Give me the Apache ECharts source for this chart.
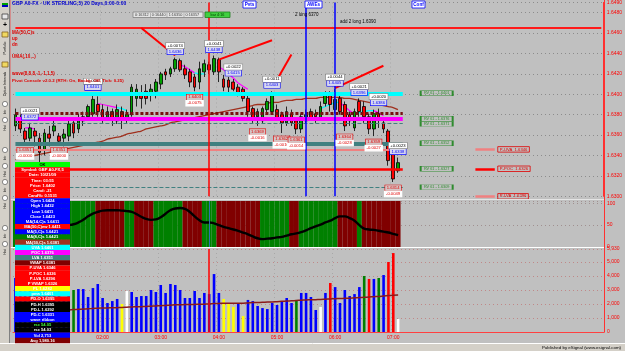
<!DOCTYPE html>
<html>
<head>
<meta charset="utf-8">
<script src="https://cdn.jsdelivr.net/npm/echarts@6/dist/echarts.min.js"></script>
<style>
  html, body { margin: 0; padding: 0; background: #c0c0c0; }
  #chart { width: 625px; height: 351px; }
</style>
</head>
<body>
<div id="chart"></div>
<script>
// 5 minute bars, GBP A0-FX
const times = [
  "00:30","00:35","00:40","00:45","00:50","00:55",
  "01:00","01:05","01:10","01:15","01:20","01:25","01:30","01:35","01:40","01:45","01:50","01:55",
  "02:00","02:05","02:10","02:15","02:20","02:25","02:30","02:35","02:40","02:45","02:50","02:55",
  "03:00","03:05","03:10","03:15","03:20","03:25","03:30","03:35","03:40","03:45","03:50","03:55",
  "04:00","04:05","04:10","04:15","04:20","04:25","04:30","04:35","04:40","04:45","04:50","04:55",
  "05:00","05:05","05:10","05:15","05:20","05:25","05:30","05:35","05:40","05:45","05:50","05:55",
  "06:00","06:05","06:10","06:15","06:20","06:25","06:30","06:35","06:40","06:45","06:50","06:55",
  "07:00","07:05"
];
const hourLabels = ["02:00","03:00","04:00","05:00","06:00","07:00"];

// [open, close, low, high]
const candles = [
  [1.6369,1.6380,1.6364,1.6386],[1.6375,1.6366,1.6362,1.6380],[1.6364,1.6356,1.6351,1.6367],
  [1.6357,1.6367,1.6354,1.6372],[1.6364,1.6359,1.6349,1.6367],[1.6357,1.6343,1.6333,1.6362],
  [1.6345,1.6362,1.6340,1.6366],[1.6361,1.6357,1.6349,1.6369],[1.6364,1.6369,1.6359,1.6375],
  [1.6359,1.6354,1.6351,1.6362],[1.6357,1.6361,1.6349,1.6366],[1.6359,1.6371,1.6354,1.6375],
  [1.6372,1.6362,1.6357,1.6375],[1.6366,1.6376,1.6362,1.6381],[1.6378,1.6374,1.6369,1.6383],
  [1.6378,1.6388,1.6375,1.6390],[1.6381,1.6395,1.6378,1.6401],[1.6390,1.6383,1.6378,1.6398],
  [1.6385,1.6376,1.6372,1.6390],[1.6376,1.6383,1.6374,1.6388],[1.6383,1.6376,1.6369,1.6386],
  [1.6374,1.6385,1.6371,1.6390],[1.6383,1.6375,1.6366,1.6388],[1.6375,1.6380,1.6372,1.6385],
  [1.6380,1.6407,1.6378,1.6410],[1.6396,1.6405,1.6388,1.6410],[1.6400,1.6396,1.6386,1.6409],
  [1.6403,1.6396,1.6390,1.6410],[1.6400,1.6405,1.6393,1.6410],[1.6403,1.6412,1.6396,1.6415],
  [1.6410,1.6420,1.6405,1.6422],[1.6422,1.6419,1.6414,1.6425],[1.6420,1.6425,1.6417,1.6427],
  [1.6425,1.6434,1.6422,1.6436],[1.6433,1.6424,1.6422,1.6435],[1.6425,1.6419,1.6415,1.6429],
  [1.6422,1.6412,1.6407,1.6425],[1.6417,1.6407,1.6403,1.6420],[1.6412,1.6425,1.6405,1.6432],
  [1.6422,1.6430,1.6417,1.6434],[1.6429,1.6424,1.6420,1.6432],[1.6422,1.6435,1.6419,1.6438],
  [1.6434,1.6422,1.6412,1.6436],[1.6415,1.6407,1.6403,1.6419],[1.6414,1.6407,1.6401,1.6417],
  [1.6412,1.6405,1.6403,1.6415],[1.6407,1.6401,1.6398,1.6410],[1.6405,1.6396,1.6393,1.6407],
  [1.6396,1.6383,1.6378,1.6400],[1.6386,1.6376,1.6372,1.6388],[1.6378,1.6383,1.6369,1.6386],
  [1.6374,1.6386,1.6371,1.6388],[1.6385,1.6393,1.6381,1.6396],[1.6383,1.6400,1.6381,1.6403],
  [1.6385,1.6376,1.6374,1.6390],[1.6380,1.6372,1.6362,1.6383],[1.6372,1.6383,1.6369,1.6388],
  [1.6381,1.6372,1.6369,1.6385],[1.6374,1.6366,1.6361,1.6376],[1.6366,1.6378,1.6362,1.6381],
  [1.6374,1.6380,1.6371,1.6385],[1.6383,1.6376,1.6374,1.6386],[1.6381,1.6378,1.6372,1.6385],
  [1.6375,1.6388,1.6374,1.6393],[1.6391,1.6400,1.6388,1.6403],[1.6400,1.6390,1.6383,1.6403],
  [1.6385,1.6395,1.6381,1.6405],[1.6396,1.6383,1.6380,1.6400],[1.6390,1.6369,1.6364,1.6393],
  [1.6380,1.6374,1.6369,1.6383],[1.6367,1.6383,1.6364,1.6386],[1.6393,1.6383,1.6378,1.6396],
  [1.6388,1.6378,1.6372,1.6393],[1.6378,1.6366,1.6361,1.6381],[1.6366,1.6381,1.6359,1.6385],
  [1.6381,1.6375,1.6367,1.6386],[1.6372,1.6366,1.6362,1.6376],[1.6364,1.6335,1.6330,1.6366],
  [1.6343,1.6317,1.6314,1.6346],[1.6325,1.6333,1.6323,1.6338]
];
const priceAvg = [
  1.6336,1.6337,1.6338,1.6339,1.6340,1.6341,1.6342,1.6343,1.6344,1.6345,1.6346,1.6347,
  1.6348,1.6349,1.6350,1.6351,1.6352,1.6353,1.6354,1.6356,1.6357,1.6358,1.6359,1.6361,
  1.6362,1.6363,1.6364,1.6366,1.6367,1.6368,1.6369,1.6370,1.6372,1.6373,1.6374,1.6375,
  1.6376,1.6377,1.6378,1.6379,1.6380,1.6381,1.6382,1.6383,1.6384,1.6385,1.6386,1.6387,
  1.6388,1.6389,1.6390,1.6390,1.6391,1.6392,1.6392,1.6393,1.6394,1.6394,1.6395,1.6395,
  1.6396,1.6396,1.6396,1.6397,1.6397,1.6397,1.6397,1.6397,1.6396,1.6396,1.6395,1.6394,
  1.6393,1.6392,1.6391,1.6390,1.6389,1.6388,1.6387,1.6385
];
// wave ribbon pieces: [barIndex, price]
const waveMagenta = [
  [[2,1.6367],[3,1.6367],[4,1.6366]],
  [[17,1.6391],[18,1.6390],[19,1.6389],[20,1.6388],[21,1.6387]],
  [[34,1.6429],[35,1.6427],[36,1.6424],[37,1.6421]],
  [[42,1.6427],[43,1.6424],[44,1.6420],[45,1.6416],[46,1.6411],[47,1.6408],[48,1.6405]],
  [[67,1.6392],[68,1.6388],[69,1.6384],[70,1.6381]],
  [[74,1.6384],[75,1.6382],[76,1.6379]]
];
const waveCyan = [
  [[21,1.6387],[22,1.6386],[23,1.6384]],
  [[37,1.6421],[38,1.6420],[39,1.6420]],
  [[63,1.6386],[64,1.6388],[65,1.6390],[66,1.6392],[67,1.6392]],
  [[70,1.6381],[71,1.6382],[72,1.6383],[73,1.6384],[74,1.6384]]
];

const oscillator = [
  50,48,46,45,44,44,45,46,47,48,49,50,
  52,56,62,70,76,80,83,84,84,84,83,82,
  80,75,69,64,62,63,68,76,84,88,89,87,
  80,70,61,56,56,54,50,46,43,40,37,33,
  29,24,20,18,19,20,22,23,26,29,31,34,
  38,43,47,51,56,60,66,70,70,66,60,50,
  42,40,39,37,35,33,30,27
];
// g = green, r = dark red background per bar
const oscBands = [
  "g","g","g","g","g","g","g","g","g","g","g","g","g","g","g","g","g",
  "r","r","r","r","r","r","g","g","r","r","r","r",
  "g","g","g","g","g","g","r","r","r","r","g","g","g",
  "r","r","r","r","r","r","r","r","r","g","g","g","g","g","g","r","r",
  "g","g","g","g","g","g","g","g","r","r","r","r","g",
  "r","r","r","r","r","r","r","r"
];

const volumes = [
  3860,3200,2900,3100,2700,3600,3300,2800,2600,2900,2500,2700,
  3000,3070,3070,2500,3140,3430,2430,2070,2210,2360,2000,2930,
  2860,2500,2570,2570,3000,2860,3360,2790,3430,3360,3000,2430,
  2430,2930,2430,2790,2710,4140,2790,2360,2070,1790,2000,1140,
  2290,2210,1860,1710,1640,2070,1930,2210,2430,2070,2290,2790,
  2790,2500,1570,1790,2790,3500,3210,2070,3000,2570,2710,3210,
  4000,3790,3790,3860,4070,5000,5640,930
];
const volumeKinds = [
  "b","b","b","b","b","b","b","b","b","b","b","b",
  "g","b","b","b","b","b","b","b","b","b","y","w",
  "b","b","b","b","b","b","b","b","b","b","b","b",
  "b","b","b","b","b","b","b","y","y","y","b","y",
  "b","b","b","b","b","b","b","b","b","b","g","b",
  "b","b","b","w","b","r","b","b","b","b","b","b",
  "g","r","b","g","b","r","r","w"
];
const volumeAvg = [
  1290,1320,1350,1380,1410,1440,1470,1500,1520,1540,1560,1580,
  1600,1620,1640,1660,1680,1700,1710,1720,1730,1740,1750,1770,
  1790,1800,1810,1820,1840,1860,1880,1900,1920,1940,1950,1960,
  1960,1970,1980,1990,2000,2030,2040,2050,2050,2050,2060,2060,
  2080,2100,2110,2120,2140,2150,2170,2190,2210,2230,2250,2270,
  2290,2300,2310,2320,2340,2360,2380,2390,2410,2420,2440,2460,
  2480,2500,2520,2540,2570,2600,2630,2650
];

// levels from the pivot console
const alertLevels = [1.6465, 1.6327];
const sessionLevels = [1.6401, 1.6381, 1.6376, 1.6372, 1.6352, 1.6346, 1.6309];
const priceTagValues = [1.6401, 1.6389, 1.6381, 1.6376, 1.6371, 1.6351, 1.6345, 1.6333, 1.6327, 1.6309, 1.6300];
const priceTagText = ["1.6401","1.6389","1.6381","1.6376","1.6371","1.6351","1.6345","1.6332","1.6326","1.6309","1.6296"];
const projLevels = [1.6401, 1.6376, 1.6371, 1.6352, 1.6327, 1.6309];
const projText = ["RV 61 - 1.6401","RV 61 - 1.6376","RV 61 - 1.6371","RV 61 - 1.6352","RV 61 - 1.6327","RV 61 - 1.6309"];
const prevLevels = [1.6346, 1.6327, 1.6300];
const prevText = ["P-UVA  1.6346","P-POC  1.6326","P-LVA  1.6296"];
// hand drawn trend lines: [i0, p0, i1, p1]
const trendLines = [[26,1.6465,33,1.6438],[42,1.6434,53,1.6453],[54,1.6414,57,1.6439],[66,1.6406,76,1.6428]];
// cursor and marker bars
const cursorBar = 40;
const markerBars = [60, 66];
// swing annotations
const highIdx = [3, 16, 33, 41, 45, 53, 66, 71, 75, 79];
const highDiff = ["+0.0021","+0.0002","+0.0074","+0.0041","+0.0022","+0.0011","+0.0044","+0.0021","+0.0020","+0.0023"];
const lowIdx = [2, 9, 37, 50, 55, 58, 68, 74, 78];
const lowDiff = ["-0.0000","-0.0000","-0.0075","-0.0016","-0.0010","-0.0014","-0.0028","-0.0027","-0.0049"];

const FONT = '"Liberation Sans", Arial, sans-serif';
const futureSlots = [];
for (let k = 0; k < 122 - times.length; k++) futureSlots.push("+" + k);
const axisSlots = times.concat(futureSlots);

const kindColor = { b: "#0000ff", g: "#008000", r: "#ff0000", y: "#ffff00", w: "#ffffff" };
const bandColor = { g: "#008000", r: "#800000" };

function tag(value, text, bg, fg) {
  return {
    yAxis: value,
    lineStyle: { opacity: 0 },
    label: {
      show: true, position: "end", distance: 1, formatter: text,
      backgroundColor: bg, color: fg || "#fff", fontSize: 5, fontFamily: FONT,
      padding: [1, 2, 0, 2], lineHeight: 5
    }
  };
}
function seg(i0, v0, i1, v1, color, width, type) {
  return [
    { coord: [i0, v0], lineStyle: { color, width, type: type || "solid", opacity: 1 }, label: { show: false } },
    { coord: [i1, v1] }
  ];
}
function note(i, price, text, dy, fg, bg, border) {
  return {
    coord: [i, price], symbol: "rect", symbolSize: 1,
    itemStyle: { color: "rgba(0,0,0,0)" },
    label: {
      show: true, position: "inside", offset: [0, dy], formatter: text,
      color: fg, backgroundColor: bg, borderColor: border, borderWidth: 0.6,
      fontSize: 4.2, fontFamily: FONT, padding: [1, 1.5, 0, 1.5], lineHeight: 4.5
    }
  };
}

/* mark lines on the price panel */
const priceLines = [];
const sessStyle = [
  ["#00ffff", 4, "solid"], ["#7a1010", 3, [3, 2]], ["#ff00ff", 4, "solid"],
  ["#408080", 1.2, [4, 2]], ["#408080", 4, "solid"], ["#f08080", 2, "solid"], ["#408080", 1.2, [4, 2]]
];
sessionLevels.forEach((v, k) => priceLines.push(seg(0, v, 80, v, sessStyle[k][0], sessStyle[k][1], sessStyle[k][2])));
// alert levels: the top one runs to the right edge, the lower one stops with the session
priceLines.push(seg(0, alertLevels[0], 121, alertLevels[0], "#ff1a1a", 2));
priceLines.push(seg(0, alertLevels[1], 80, alertLevels[1], "#ff0000", 2.5));
priceTagValues.forEach((v, k) => priceLines.push(tag(v, priceTagText[k],
  ["#00e8e8","#9a3a2a","#800000","#ff00ff","#408080","#408080","#ff0000","#008000","#ff0000","#408080","#ff0000"][k])));
trendLines.forEach((t) => priceLines.push(seg(t[0], t[1], t[2], t[3], "#ff0000", 2)));
const prevColors = ["#f08080", "#ff0000", "#f08080"];
prevLevels.forEach((v, k) => priceLines.push([
  {
    coord: [95, v], lineStyle: { color: prevColors[k], width: 2.5, type: "solid" },
    label: {
      show: true, position: "end", distance: 3, formatter: prevText[k], color: "#e00000",
      borderColor: "#e00000", borderWidth: 0.8, padding: [1, 2, 0, 2], fontSize: 4.2, fontFamily: FONT, lineHeight: 4.5
    }
  },
  { coord: [99, v] }
]));
markerBars.forEach((b) => priceLines.push(seg(b, 1.630, b, 1.649, "#0000ff", 1.5)));
priceLines.push(seg(cursorBar, 1.630, cursorBar, 1.649, "#ff0000", 1.5));

/* annotations */
const pricePoints = [];
highIdx.forEach((i, k) => {
  const hi = candles[i][3];
  pricePoints.push(note(i, hi, hi.toFixed(4), -6, "#0000ff", "#d8d8f0", "#0000ff"));
  pricePoints.push(note(i, hi, highDiff[k], -12, "#000", "#ffffff", "#808080"));
});
lowIdx.forEach((i, k) => {
  const lo = candles[i][2];
  pricePoints.push(note(i, lo, lo.toFixed(4), 6, "#e00000", "#d4c4c4", "#e00000"));
  pricePoints.push(note(i, lo, lowDiff[k], 12, "#e00000", "#ffffff", "#ffffff"));
});
projLevels.forEach((v, k) => pricePoints.push({
  coord: [87, v], symbol: "rect", symbolSize: [32, 5],
  itemStyle: { color: "rgba(0,0,0,0)", borderColor: "#2e8b2e", borderWidth: 0.8 },
  label: { show: true, position: "inside", formatter: projText[k], color: "#2e8b2e", fontSize: 3.8, fontFamily: FONT }
}));

const series = [
  {
    type: "candlestick", xAxisIndex: 0, yAxisIndex: 0, data: candles, barWidth: 3.2,
    itemStyle: { color: "#00a000", color0: "#ff0000", borderColor: "#000", borderColor0: "#000", borderWidth: 0.8 },
    markLine: { silent: true, symbol: "none", animation: false, data: priceLines },
    markPoint: { silent: true, animation: false, data: pricePoints },
    z: 3
  },
  {
    type: "line", xAxisIndex: 0, yAxisIndex: 0, data: priceAvg, smooth: true, symbol: "none",
    lineStyle: { color: "#a0301e", width: 1.3 }, z: 2
  }
];
waveMagenta.forEach((s) => series.push({
  type: "line", xAxisIndex: 0, yAxisIndex: 0, data: s, symbol: "none",
  lineStyle: { color: "#ff00ff", width: 1.2 }, z: 2
}));
waveCyan.forEach((s) => series.push({
  type: "line", xAxisIndex: 0, yAxisIndex: 0, data: s, symbol: "none",
  lineStyle: { color: "#00ffff", width: 1.2 }, z: 2
}));
series.push({
  type: "bar", xAxisIndex: 1, yAxisIndex: 1, barWidth: "100%", barGap: "0%",
  data: oscBands.map((c) => ({ value: 105, itemStyle: { color: bandColor[c] } })), z: 1
});
series.push({
  type: "line", xAxisIndex: 1, yAxisIndex: 1, data: oscillator, smooth: true, symbol: "none",
  lineStyle: { color: "#000", width: 2.4 }, z: 3,
  markLine: {
    silent: true, symbol: "none", animation: false,
    data: [tag(27.45, "27.45", "#000000", "#ffffff"), seg(cursorBar, 0, cursorBar, 105, "#3070b0", 1)]
  }
});
series.push({
  type: "bar", xAxisIndex: 2, yAxisIndex: 2, barWidth: 2.6,
  data: volumes.map((v, k) => ({ value: v, itemStyle: { color: kindColor[volumeKinds[k]] } })),
  markLine: {
    silent: true, symbol: "none", animation: false,
    data: [
      tag(2654.23, "2,654.23", "#8b1a1a", "#ffffff"),
      tag(volumes[volumes.length - 1], String(volumes[volumes.length - 1]), "#ffffff", "#000000"),
      seg(cursorBar, 0, cursorBar, 5930, "#ff0000", 1.5)
    ]
  }
});
series.push({
  type: "line", xAxisIndex: 2, yAxisIndex: 2, data: volumeAvg, smooth: true, symbol: "none",
  lineStyle: { color: "#8b1a1a", width: 1.5 }, z: 3
});

function xAxisFor(g) {
  return {
    type: "category", gridIndex: g, data: axisSlots, boundaryGap: true,
    axisLine: g === 2 ? { show: true, lineStyle: { color: "#ff4040", width: 1 } } : { show: false },
    axisTick: { show: false },
    axisLabel: g === 2
      ? { show: true, interval: (i, v) => hourLabels.includes(v), color: "#ff0000", fontSize: 5, margin: 3, fontFamily: FONT }
      : { show: false },
    splitLine: { show: true, interval: (i, v) => hourLabels.includes(v), lineStyle: { color: "#a8a8a8", type: [1, 3] } }
  };
}
const yLabel = { color: "#ff0000", fontSize: 5, margin: 3, fontFamily: FONT };

const option = {
  animation: false,
  backgroundColor: "#c0c0c0",
  grid: [
    { left: 13, right: 21, top: 0, height: 196.3 },
    { left: 13, right: 21, top: 201, height: 46 },
    { left: 13, right: 21, top: 249, height: 83 }
  ],
  xAxis: [xAxisFor(0), xAxisFor(1), xAxisFor(2)],
  yAxis: [
    {
      type: "value", gridIndex: 0, position: "right", min: 1.630, max: 1.649, interval: 0.002, scale: true,
      axisLine: { show: true, lineStyle: { color: "#ff3030" } }, axisTick: { show: false },
      axisLabel: Object.assign({ formatter: (v) => v.toFixed(4) }, yLabel),
      splitLine: { show: true, lineStyle: { color: "#8c8c8c", type: [1, 3] } }
    },
    {
      type: "value", gridIndex: 1, position: "right", min: 0, max: 105, interval: 50,
      axisLine: { show: true, lineStyle: { color: "#ff3030" } }, axisTick: { show: false },
      axisLabel: yLabel,
      splitLine: { show: true, lineStyle: { color: "#a09090", type: [1, 3] } }
    },
    {
      type: "value", gridIndex: 2, position: "right", min: 0, max: 5930, interval: 1000,
      axisLine: { show: true, lineStyle: { color: "#ff3030" } }, axisTick: { show: false },
      axisLabel: Object.assign({ formatter: (v) => v.toLocaleString("en-US") }, yLabel),
      splitLine: { show: true, lineStyle: { color: "#c08888", type: [1, 3] } }
    }
  ],
  series
};

const chart = echarts.init(document.getElementById("chart"), null, { renderer: "canvas" });
chart.setOption(option);

/* chrome: toolbar, titles, data window */
const graphics = [];
function rect(x, y, w, h, fill, stroke, z) {
  graphics.push({ type: "rect", z: z || 100, shape: { x, y, width: w, height: h }, style: { fill, stroke: stroke || null, lineWidth: 0.8 } });
}
function text(x, y, str, color, size, opts) {
  const o = opts || {};
  graphics.push({
    type: "text", z: (o.z || 101), x, y, rotation: o.rot || 0,
    style: {
      text: str, fill: color, font: `${o.bold === false ? "" : "bold "}${size}px ${FONT}`,
      textAlign: o.align || "left", textVerticalAlign: "middle", align: o.align || "left", verticalAlign: "middle"
    }
  });
}
function line(x1, y1, x2, y2, color, w, z) {
  graphics.push({ type: "line", z: z || 99, shape: { x1, y1, x2, y2 }, style: { stroke: color, lineWidth: w || 1 } });
}

line(10, 199.5, 604, 199.5, "#e4e4e4", 1);
line(10, 247.5, 604, 247.5, "#ffffff", 1);
line(604.5, 0, 604.5, 332, "#ff3030", 1);
line(10.5, 0, 10.5, 332, "#d88080", 0.8);

// left toolbar
rect(0, 0, 10, 344, "#d4d0c8", null, 98);
line(9.5, 0, 9.5, 344, "#808080", 1);
rect(2, 3, 6, 2, "#00a000"); rect(2, 5, 6, 2, "#0000c0");
rect(2, 14, 6, 5, "#e8e8e8", "#404040");
text(5, 25, "+", "#000", 7, { align: "center" });
rect(2, 32, 6, 5, "#f0d860", "#806020");
text(5, 48, "Portfolio", "#000", 3.5, { align: "center", rot: Math.PI / 2, bold: false });
rect(2, 62, 6, 5, "#f0d860", "#806020");
text(5, 84, "Option Intervals", "#000", 3.5, { align: "center", rot: Math.PI / 2, bold: false });
[104, 120, 150, 166, 182, 198, 228, 244].forEach((y, k) => {
  graphics.push({ type: "circle", z: 100, shape: { cx: 5, cy: y, r: 2.6 }, style: { fill: "#ffffff", stroke: "#404040", lineWidth: 0.6 } });
  text(5, y + 8, k % 2 ? "Hist" : "Intr", "#000", 3.2, { align: "center", rot: Math.PI / 2, bold: false });
});

// titles and study legends
text(12, 4, "GBP A0-FX - UK STERLING,5) 20 Days,0:00-0:00", "#0000d0", 5);
rect(133, 12, 70, 5.5, "#e4e4e4", "#808080");
text(135, 14.8, "0:16312 | 0:16440 | 1:16350 | 0:16357", "#404040", 3.8, { bold: false });
rect(205, 12, 25, 5.5, "#40d040", "#208020");
text(217.5, 14.8, "bar 4:16", "#004000", 3.8, { align: "center", bold: false });
text(12, 33, "MA(50,C)s", "#e00000", 4.6);
text(12, 39, "up", "#e00000", 4.6);
text(12, 45, "dn", "#e00000", 4.6);
text(12, 57, "UMA(,10,..)", "#e00000", 4.6);
text(12, 74, "wave(8,8,8,-1,-1,1,5)", "#e00000", 4.6);
text(12, 81, "Pivot Console v2.0.2 (RTH: On, Backg: Off, Tick: 0.25)", "#e00000", 4.4);
text(295, 15, "2 long 6370", "#000", 4.5, { bold: false });
text(340, 22, "add 2 long 1.6390", "#000", 4.5, { bold: false });
[["Pvts", 243, 13], ["AWEs", 305, 17], ["Conf", 412, 13]].forEach((b) => {
  rect(b[1], 1, b[2], 7, "#ffffff", "#0000ff");
  text(b[1] + b[2] / 2, 4.7, b[0], "#0000ff", 4.6, { align: "center" });
});

// data window
const dataWindowText = [
  "OK", "Symbol: GBP A0-FX,5", "Date: 10/21/09", "Time: 03:55", "Price: 1.6402", "Cand: -21", "Cand%: 0.1531",
  "Open 1.6424", "High 1.6432", "Low 1.6411", "Close 1.6423", "MA(14,C)s 1.6411", "MA(50,C)ew 1.6411",
  "MA(5,C)s 1.6421", "MA(8,C)s 1.6421", "MA(50,C)s 1.6381", "UVA 1.6401", "POC 1.6376", "LVA 1.6351",
  "VWAP 1.6381", "P-UVA 1.6346", "P-POC 1.6326", "P-LVA 1.6296", "P VWAP 1.6326", "PL 1.6282", "pma 1.6401",
  "PD-O 1.6395", "PD-H 1.6395", "PD-L 1.6292", "PD-C 1.6331", "wave ribbon", "rsx 54.05", "rsx 54.03",
  "Vol 2,713", "Avg 1,980.16"
];
const dataWindowFill = [
  "#00ff00", "#ff0000", "#ff0000", "#ff0000", "#ff0000", "#ff0000", "#ff0000",
  "#0000ff", "#0000ff", "#0000ff", "#0000ff", "#0000ff", "#ff0000",
  "#0000ff", "#008000", "#a0301e", "#00ffff", "#ff00ff", "#408080",
  "#800000", "#ff0000", "#ff0000", "#ff0000", "#ff0000", "#ffff00", "#00ffff",
  "#ff0000", "#000000", "#000000", "#0000ff", "#0000ff", "#000000", "#000000",
  "#0000ff", "#800000"
];
const rowH = 5.17;
dataWindowText.forEach((t, k) => {
  const y = 162 + k * rowH;
  rect(15, y, 55, rowH + 0.2, dataWindowFill[k], null, 110);
  const fg = k === 0 ? "#000" : (k === 31 ? "#40ff40" : "#ffffff");
  text(42.5, y + rowH / 2 + 0.3, t, fg, 4.1, { align: "center", z: 111 });
});

// status bar
line(0, 343.5, 625, 343.5, "#ffffff", 1);
rect(0, 344, 625, 7, "#d4d0c8", null, 98);
text(621, 347.5, "Published by eSignal (www.esignal.com)", "#000", 4.4, { align: "right", bold: false });

chart.setOption({ graphic: graphics });
</script>
</body>
</html>
